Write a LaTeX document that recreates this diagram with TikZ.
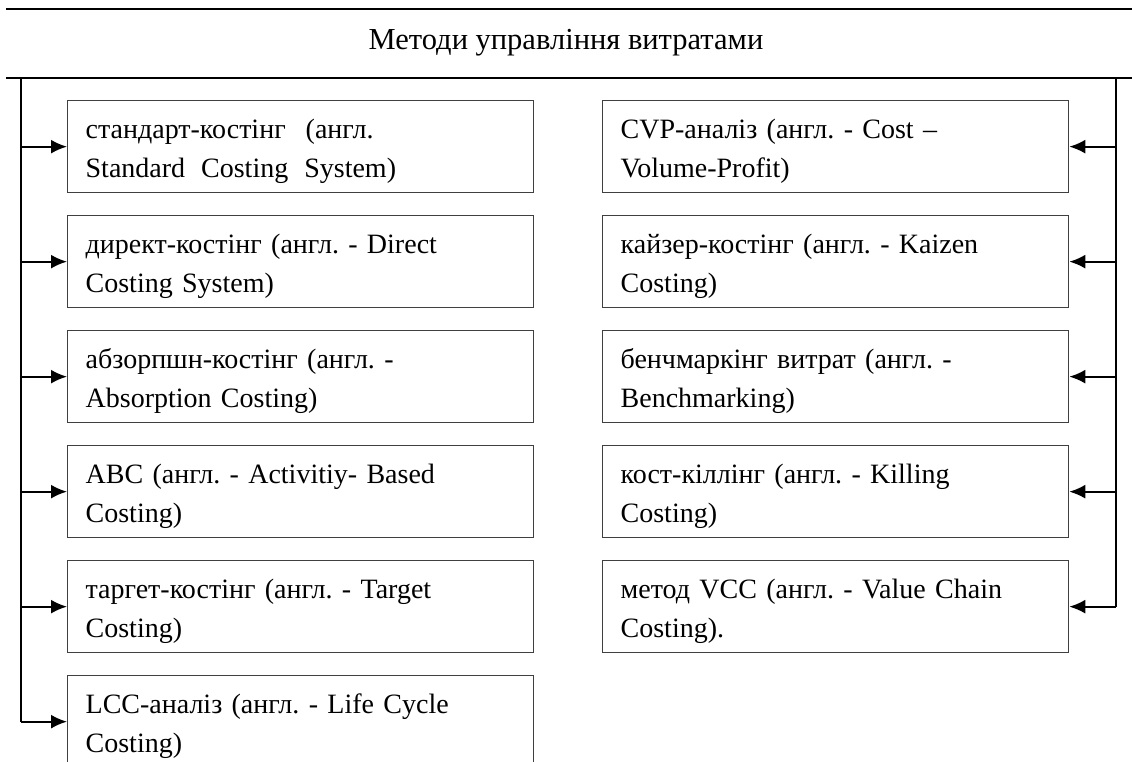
\documentclass[tikz,border=0pt]{standalone}
\usepackage{fontspec}
\setmainfont{Liberation Serif}
\usetikzlibrary{arrows.meta}
\frenchspacing
\tikzset{
  method/.style={draw=black!75, line width=1.3pt, anchor=north west,
    minimum height=92pt, text width=430pt, inner xsep=18pt, inner ysep=0pt,
    text height=28pt, text depth=44pt,
    align=left, font=\fontsize{28}{39}\selectfont},
  feed/.style={line width=2pt, -{Latex[length=16pt,width=14pt]}},
  rulerline/.style={line width=1.3pt}
}
\begin{document}
\begin{tikzpicture}[x=1pt, y=1pt]
    \useasboundingbox (0,0) rectangle (1132,-761);
    \clip (0,0) rectangle (1132,-761);
    % Title between two rules
    \coordinate (topl) at (6,-9);
    \coordinate (topr) at (1132,-9);
    \coordinate (botl) at (6,-78);
    \coordinate (botr) at (1132,-78);
    \draw[rulerline] (topl) -- (topr);
    \draw[rulerline] (botl) -- (botr);
    \node[font=\fontsize{30.5}{32}\selectfont] (title) at (566,-43) {Методи управління витратами};
    % Left column
    \node[method] (l1) at (67,-100) {стандарт-костінг\hspace{20pt}(англ.\\ Standard\hspace{16pt}Costing\hspace{16pt}System)};
    \node[method] (l2) at (67,-215) {директ-костінг (англ. - Direct\\ Costing System)};
    \node[method] (l3) at (67,-330) {абзорпшн-костінг (англ. -\\ Absorption Costing)};
    \node[method] (l4) at (67,-445) {ABC (англ. - Activitiy- Based\\ Costing)};
    \node[method] (l5) at (67,-560) {таргет-костінг (англ. - Target\\ Costing)};
    \node[method] (l6) at (67,-675) {LCC-аналіз (англ. - Life Cycle\\ Costing)};
    % Right column
    \node[method] (r1) at (602,-100) {CVP-аналіз (англ. - Cost –\\ Volume-Profit)};
    \node[method] (r2) at (602,-215) {кайзер-костінг (англ. - Kaizen\\ Costing)};
    \node[method] (r3) at (602,-330) {бенчмаркінг витрат (англ. -\\ Benchmarking)};
    \node[method] (r4) at (602,-445) {кост-кіллінг (англ. - Killing\\ Costing)};
    \node[method] (r5) at (602,-560) {метод VCC (англ. - Value Chain\\ Costing).};
    % Left trunk and arrows
    \coordinate (ltop) at (21,-78);
    \draw[rulerline] (ltop) -- (ltop |- l6.west);
    \draw[feed] (ltop |- l1.west) -- (l1.west);
    \draw[feed] (ltop |- l2.west) -- (l2.west);
    \draw[feed] (ltop |- l3.west) -- (l3.west);
    \draw[feed] (ltop |- l4.west) -- (l4.west);
    \draw[feed] (ltop |- l5.west) -- (l5.west);
    \draw[feed] (ltop |- l6.west) -- (l6.west);
    % Right trunk and arrows
    \coordinate (rtop) at (1116,-78);
    \draw[rulerline] (rtop) -- (rtop |- r5.east);
    \draw[feed] (rtop |- r1.east) -- (r1.east);
    \draw[feed] (rtop |- r2.east) -- (r2.east);
    \draw[feed] (rtop |- r3.east) -- (r3.east);
    \draw[feed] (rtop |- r4.east) -- (r4.east);
    \draw[feed] (rtop |- r5.east) -- (r5.east);
\end{tikzpicture}
\end{document}
